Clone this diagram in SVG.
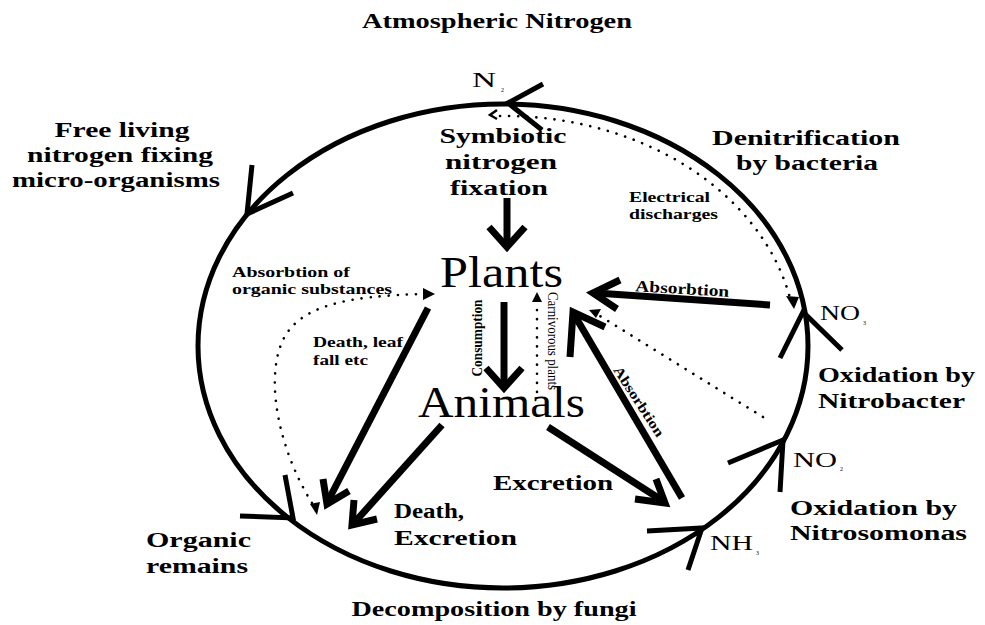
<svg xmlns="http://www.w3.org/2000/svg" width="985" height="625" viewBox="0 0 985 625">
<style>
text{font-family:"Liberation Serif","Times New Roman",serif;fill:#000}
.b{font-weight:bold;font-size:20px}
.s{font-weight:bold;font-size:14px}
.big{font-size:44px}
.chem{font-size:22px}
.sub{font-size:6px}
.thick{fill:none;stroke:#000;stroke-width:7;stroke-linecap:butt;stroke-linejoin:miter}
.ring{fill:none;stroke:#000;stroke-width:5}
.head{fill:none;stroke:#000;stroke-width:5;stroke-linejoin:miter}
.dot{fill:none;stroke:#000;stroke-width:2.6;stroke-linecap:round;stroke-dasharray:0.1 9}
.tip{fill:#000}
</style>
<rect width="985" height="625" fill="#fff"/>

<g id="cycle">
<ellipse class="ring" cx="503" cy="346" rx="305" ry="242"/>
<polyline class="head" points="543,84 508,103 542,130"/>
<polyline class="head" points="252,165 247,214 293,193"/>
<polyline class="head" points="285,475 293,518 240,516"/>
<polyline class="head" points="647,531 702,528 688,570"/>
<polyline class="head" points="728,463 783,440 780,492"/>
<polyline class="head" points="780,358 803,312 842,350"/>
</g>

<g id="title"><text class="b" x="497" y="28" text-anchor="middle" textLength="270" lengthAdjust="spacingAndGlyphs">Atmospheric Nitrogen</text></g>

<g id="n2"><text class="chem" x="472" y="87" textLength="24" lengthAdjust="spacingAndGlyphs">N</text><text class="sub" x="501" y="92">2</text></g>

<g id="symbiotic">
<text class="b" x="503" y="143" text-anchor="middle" textLength="127" lengthAdjust="spacingAndGlyphs">Symbiotic</text>
<text class="b" x="501" y="169" text-anchor="middle" textLength="112" lengthAdjust="spacingAndGlyphs">nitrogen</text>
<text class="b" x="499" y="195" text-anchor="middle" textLength="98" lengthAdjust="spacingAndGlyphs">fixation</text>
</g>

<g id="freeliving">
<text class="b" x="122" y="137" text-anchor="middle" textLength="135" lengthAdjust="spacingAndGlyphs">Free living</text>
<text class="b" x="120" y="162" text-anchor="middle" textLength="186" lengthAdjust="spacingAndGlyphs">nitrogen fixing</text>
<text class="b" x="116" y="187" text-anchor="middle" textLength="208" lengthAdjust="spacingAndGlyphs">micro-organisms</text>
</g>

<g id="denitrification">
<text class="b" x="806" y="145" text-anchor="middle" textLength="188" lengthAdjust="spacingAndGlyphs">Denitrification</text>
<text class="b" x="807" y="170" text-anchor="middle" textLength="142" lengthAdjust="spacingAndGlyphs">by bacteria</text>
</g>

<g id="electrical">
<text class="s" x="629" y="202" textLength="81" lengthAdjust="spacingAndGlyphs">Electrical</text>
<text class="s" x="629" y="219" textLength="89" lengthAdjust="spacingAndGlyphs">discharges</text>
</g>

<g id="plants"><text class="big" x="440" y="287" textLength="123" lengthAdjust="spacingAndGlyphs">Plants</text></g>
<g id="animals"><text class="big" x="418" y="417" textLength="167" lengthAdjust="spacingAndGlyphs">Animals</text></g>

<g id="no3"><text class="chem" x="820" y="320" textLength="40" lengthAdjust="spacingAndGlyphs">NO</text><text class="sub" x="863" y="325">3</text></g>
<g id="nitrobacter">
<text class="b" x="818" y="382" textLength="157" lengthAdjust="spacingAndGlyphs">Oxidation by</text>
<text class="b" x="818" y="408" textLength="147" lengthAdjust="spacingAndGlyphs">Nitrobacter</text>
</g>

<g id="no2"><text class="chem" x="793" y="467" textLength="44" lengthAdjust="spacingAndGlyphs">NO</text><text class="sub" x="840" y="471">2</text></g>
<g id="nitrosomonas">
<text class="b" x="790" y="515" textLength="167" lengthAdjust="spacingAndGlyphs">Oxidation by</text>
<text class="b" x="790" y="540" textLength="177" lengthAdjust="spacingAndGlyphs">Nitrosomonas</text>
</g>

<g id="nh3"><text class="chem" x="710" y="550" textLength="43" lengthAdjust="spacingAndGlyphs">NH</text><text class="sub" x="756" y="555">3</text></g>

<g id="decomposition"><text class="b" x="494" y="616" text-anchor="middle" textLength="285" lengthAdjust="spacingAndGlyphs">Decomposition by fungi</text></g>

<g id="organic">
<text class="b" x="146" y="547" textLength="105" lengthAdjust="spacingAndGlyphs">Organic</text>
<text class="b" x="146" y="573" textLength="102" lengthAdjust="spacingAndGlyphs">remains</text>
</g>

<g id="deathexcretion">
<text class="b" x="394" y="518" textLength="70" lengthAdjust="spacingAndGlyphs">Death,</text>
<text class="b" x="394" y="545" textLength="123" lengthAdjust="spacingAndGlyphs">Excretion</text>
</g>

<g id="labels">
<text class="b" x="493" y="490" textLength="120" lengthAdjust="spacingAndGlyphs">Excretion</text>
<text class="s" x="232" y="277" textLength="118" lengthAdjust="spacingAndGlyphs">Absorbtion of</text>
<text class="s" x="232" y="294" textLength="160" lengthAdjust="spacingAndGlyphs">organic substances</text>
<text class="s" x="313" y="347" textLength="90" lengthAdjust="spacingAndGlyphs">Death, leaf</text>
<text class="s" x="313" y="365" textLength="55" lengthAdjust="spacingAndGlyphs">fall etc</text>
<text class="s" style="font-size:14px" transform="translate(482,338) rotate(-90)" text-anchor="middle" textLength="77" lengthAdjust="spacingAndGlyphs">Consumption</text>
<text style="font-size:14px" transform="translate(548,341) rotate(90)" text-anchor="middle" textLength="98" lengthAdjust="spacingAndGlyphs">Carnivorous plants</text>
<text class="s" style="font-size:16px" transform="translate(682,294) rotate(3.5)" text-anchor="middle" textLength="94" lengthAdjust="spacingAndGlyphs">Absorbtion</text>
<text class="s" transform="translate(635,404) rotate(57)" text-anchor="middle" textLength="81" lengthAdjust="spacingAndGlyphs">Absorbtion</text>
</g>

<g id="connectors">
<line class="thick" x1="507" y1="198" x2="507" y2="244"/>
<polyline class="thick" points="489,227 507,247 525,227"/>
<line class="thick" x1="504" y1="302" x2="504" y2="383"/>
<polyline class="thick" points="486,368 504,388 522,368"/>
<line class="thick" x1="428" y1="308" x2="328" y2="501"/>
<polyline class="thick" points="323,479 327,504 349,491"/>
<line class="thick" x1="442" y1="425" x2="354" y2="523"/>
<polyline class="thick" points="354,500 352,525 377,519"/>
<line class="thick" x1="548" y1="427" x2="663" y2="501"/>
<polyline class="thick" points="656,479 665,503 635,499"/>
<line class="thick" x1="682" y1="498" x2="575" y2="316"/>
<polyline class="thick" points="570,357 573,312 605,327"/>
<line class="thick" x1="770" y1="305" x2="596" y2="293"/>
<polyline class="thick" points="620,280 593,293 617,309"/>

<path class="dot" d="M 500,116 A 292 230 0 0 1 790,298"/>
<polyline fill="none" stroke="#000" stroke-width="2.5" points="497,110 490,115 497,119"/>
<polygon class="tip" points="786,296 799,297 794,309"/>

<line class="dot" x1="763" y1="417" x2="600" y2="316"/>
<polygon class="tip" points="589,310 601,309 596,318"/>

<line class="dot" x1="537" y1="392" x2="537" y2="302"/>
<polygon class="tip" points="537,292 532,302 542,302"/>

<path class="dot" d="M 312,503 C 282,455 264,385 282,342 C 298,306 345,296 423,294"/>
<polygon class="tip" points="435,294 423,288 423,300"/>
<polygon class="tip" points="317,515 310,504 320,502"/>
</g>
</svg>
